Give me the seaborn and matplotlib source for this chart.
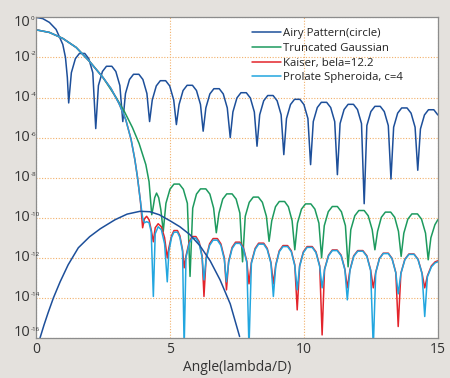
import numpy as np
import pandas as pd
import matplotlib
matplotlib.use('Agg')
import matplotlib.pyplot as plt
import seaborn as sns

# ---------------------------------------------------------------
# Valores (eixo y guardado como log10 da intensidade)
# ---------------------------------------------------------------
airy_x = [0, 0.25, 0.5, 0.75, 1.0, 1.1, 1.17,
          1.22, 1.32, 1.47, 1.62, 1.82, 1.97, 2.12,
          2.23, 2.33, 2.48, 2.63, 2.83, 2.98, 3.13,
          3.24, 3.34, 3.49, 3.64, 3.84, 3.99, 4.14,
          4.24, 4.34, 4.49, 4.64, 4.84, 4.99, 5.14,
          5.24, 5.34, 5.49, 5.64, 5.84, 5.99, 6.14,
          6.24, 6.34, 6.49, 6.64, 6.84, 6.99, 7.14,
          7.25, 7.35, 7.5, 7.65, 7.85, 8.0, 8.15,
          8.25, 8.35, 8.5, 8.65, 8.85, 9.0, 9.15,
          9.25, 9.35, 9.5, 9.65, 9.85, 10.0, 10.15,
          10.25, 10.35, 10.5, 10.65, 10.85, 11.0, 11.15,
          11.25, 11.35, 11.5, 11.65, 11.85, 12.0, 12.15,
          12.25, 12.35, 12.5, 12.65, 12.85, 13.0, 13.15,
          13.25, 13.35, 13.5, 13.65, 13.85, 14.0, 14.15,
          14.25, 14.35, 14.5, 14.65, 14.85, 15.0]
airy_log = [0, -0.06, -0.25, -0.6, -1.35, -2.0, -3.0,
            -4.27, -2.76, -2.06, -1.80, -1.80, -2.06, -2.76,
            -5.55, -3.40, -2.70, -2.44, -2.44, -2.70, -3.40,
            -5.2, -3.80, -3.10, -2.84, -2.84, -3.10, -3.80,
            -5.2, -4.12, -3.42, -3.16, -3.16, -3.42, -4.12,
            -5.35, -4.35, -3.65, -3.39, -3.39, -3.65, -4.35,
            -5.68, -4.52, -3.82, -3.56, -3.56, -3.82, -4.52,
            -6.0, -4.72, -4.02, -3.76, -3.76, -4.02, -4.72,
            -6.43, -4.86, -4.16, -3.90, -3.90, -4.16, -4.86,
            -6.85, -5.05, -4.35, -4.09, -4.09, -4.35, -5.05,
            -7.35, -5.2, -4.5, -4.24, -4.24, -4.5, -5.2,
            -7.85, -5.3, -4.6, -4.34, -4.34, -4.6, -5.3,
            -9.3, -5.4, -4.7, -4.44, -4.44, -4.7, -5.4,
            -8.07, -5.48, -4.78, -4.52, -4.52, -4.78, -5.48,
            -7.63, -5.57, -4.87, -4.61, -4.61, -4.87]

# curva em arco (mesma cor do Airy, sem legenda)
arco_x = [0.15, 0.3, 0.45, 0.65, 0.9, 1.2, 1.58, 2.0, 2.4, 2.95, 3.4,
          3.88, 4.25, 4.6, 5.0, 5.37, 5.75, 6.12, 6.5, 6.87, 7.25, 7.6]
arco_log = [-16, -15.35, -14.75, -14.0, -13.2, -12.35, -11.5, -10.95,
            -10.55, -10.1, -9.82, -9.68, -9.7, -9.85, -10.15, -10.45,
            -10.85, -11.4, -12.15, -13.1, -14.3, -15.93]

gauss_x = [0, 0.5, 1.0, 1.5, 2.0, 2.5, 3.0, 3.3, 3.6, 3.85, 4.1, 4.22,
           4.32, 4.37, 4.43, 4.5, 4.58, 4.66,
           4.75, 4.85, 5.0, 5.15, 5.35, 5.5, 5.65,
           5.75, 5.85, 5.99, 6.14, 6.34, 6.49, 6.63,
           6.73, 6.83, 6.97, 7.12, 7.32, 7.47, 7.61,
           7.71, 7.81, 7.96, 8.11, 8.30, 8.45, 8.60,
           8.70, 8.80, 8.94, 9.08, 9.28, 9.42, 9.56,
           9.66, 9.76, 9.91, 10.06, 10.26, 10.41, 10.56,
           10.66, 10.76, 10.91, 11.06, 11.25, 11.40, 11.55,
           11.65, 11.75, 11.9, 12.05, 12.25, 12.4, 12.55,
           12.65, 12.75, 12.89, 13.04, 13.24, 13.39, 13.53,
           13.63, 13.73, 13.88, 14.03, 14.24, 14.39, 14.54,
           14.64, 14.74, 14.89, 15.0]
gauss_log = [-0.62, -0.75, -1.05, -1.5, -2.2, -3.0, -4.02, -4.7, -5.5, -6.3, -7.35, -8.2,
             -9.85, -9.5, -9.0, -8.77, -9.0, -9.6,
             -10.68, -9.28, -8.58, -8.32, -8.32, -8.58, -9.28,
             -12.93, -9.52, -8.82, -8.56, -8.56, -8.82, -9.52,
             -10.75, -9.77, -9.07, -8.81, -8.81, -9.07, -9.77,
             -12.2, -9.93, -9.23, -8.97, -8.97, -9.23, -9.93,
             -11.18, -10.15, -9.45, -9.19, -9.19, -9.45, -10.15,
             -11.6, -10.27, -9.57, -9.31, -9.31, -9.57, -10.27,
             -12.0, -10.4, -9.7, -9.44, -9.44, -9.7, -10.4,
             -12.45, -10.6, -9.9, -9.64, -9.64, -9.9, -10.6,
             -11.6, -10.68, -9.98, -9.72, -9.72, -9.98, -10.68,
             -11.93, -10.77, -10.07, -9.81, -9.81, -10.07, -10.77,
             -12.1, -11.0, -10.35, -10.1]

# Kaiser e Prolate compartilham as posicoes x
lobo_x = [0, 0.5, 1.0, 1.5, 2.0, 2.5, 2.8, 3.1, 3.35, 3.55, 3.69, 3.79, 3.9,
          3.98, 4.05, 4.13, 4.22, 4.3, 4.38, 4.45, 4.56, 4.68, 4.8,
          4.9, 4.96, 5.06, 5.15, 5.28, 5.37, 5.47,
          5.53, 5.60, 5.72, 5.83, 5.97, 6.09, 6.20,
          6.27, 6.35, 6.48, 6.61, 6.77, 6.9, 7.03,
          7.11, 7.19, 7.32, 7.45, 7.61, 7.74, 7.87,
          7.95, 8.04, 8.18, 8.31, 8.50, 8.63, 8.77,
          8.86, 8.95, 9.08, 9.22, 9.39, 9.53, 9.66,
          9.75, 9.84, 9.98, 10.12, 10.31, 10.45, 10.59,
          10.68, 10.77, 10.92, 11.06, 11.24, 11.39, 11.53,
          11.62, 11.72, 11.86, 12.01, 12.2, 12.35, 12.49,
          12.59, 12.68, 12.82, 12.96, 13.15, 13.29, 13.43,
          13.52, 13.62, 13.77, 13.92, 14.11, 14.26, 14.41,
          14.51, 14.61, 14.76, 14.9, 15.0]
kaiser_log = [-0.62, -0.75, -1.05, -1.5, -2.2, -3.0, -3.55, -4.3, -5.1, -6.1, -7.1, -8.0, -9.2,
              -10.5, -10.05, -9.93, -10.1, -10.6, -11.2, -10.5, -10.3, -10.45, -11.0,
              -12.0, -11.5, -10.9, -10.64, -10.64, -10.9, -11.6,
              -12.5, -11.9, -11.2, -10.94, -10.94, -11.2, -11.9,
              -13.93, -12.0, -11.3, -11.04, -11.04, -11.3, -12.0,
              -13.6, -12.18, -11.48, -11.22, -11.22, -11.48, -12.18,
              -13.3, -12.23, -11.53, -11.27, -11.27, -11.53, -12.23,
              -13.3, -12.35, -11.65, -11.39, -11.39, -11.65, -12.35,
              -14.6, -12.4, -11.7, -11.44, -11.44, -11.7, -12.4,
              -15.85, -12.57, -11.87, -11.61, -11.61, -11.87, -12.57,
              -13.5, -12.6, -11.9, -11.64, -11.64, -11.9, -12.6,
              -13.5, -12.73, -12.03, -11.77, -11.77, -12.03, -12.73,
              -15.43, -12.77, -12.07, -11.81, -11.81, -12.07, -12.77,
              -13.5, -12.9, -12.4, -12.2, -12.15]
prolate_log = [-0.62, -0.75, -1.05, -1.5, -2.2, -3.0, -3.55, -4.3, -5.1, -6.1, -7.1, -8.0, -9.2,
               -10.0, -10.25, -10.2, -10.25, -10.7, -13.93, -10.8, -10.45, -10.6, -11.3,
               -13.2, -11.68, -10.98, -10.72, -10.72, -10.98, -11.68,
               -16.5, -11.98, -11.28, -11.02, -11.02, -11.28, -11.98,
               -13.1, -12.08, -11.38, -11.12, -11.12, -11.38, -12.08,
               -13.2, -12.24, -11.54, -11.28, -11.28, -11.54, -12.24,
               -16.5, -12.28, -11.58, -11.32, -11.32, -11.58, -12.28,
               -13.93, -12.4, -11.7, -11.44, -11.44, -11.7, -12.4,
               -13.6, -12.44, -11.74, -11.48, -11.48, -11.74, -12.44,
               -13.5, -12.6, -11.9, -11.64, -11.64, -11.9, -12.6,
               -14.1, -12.63, -11.93, -11.67, -11.67, -11.93, -12.63,
               -16.5, -12.75, -12.05, -11.79, -11.79, -12.05, -12.75,
               -13.8, -12.79, -12.09, -11.83, -11.83, -12.09, -12.79,
               -14.93, -12.95, -12.45, -12.25, -12.2]

expoentes = [0, -2, -4, -6, -8, -10, -12, -14, -16]
rotulos = ['Airy Pattern(circle)', 'Truncated Gaussian',
           'Kaiser, bela=12.2', 'Prolate Spheroida, c=4']
cores = ['#1d4f9a', '#1d9a5e', '#e3242b', '#22a6df']

# ---------------------------------------------------------------
sns.set_style('white')
plt.rcParams['font.family'] = ['Open Sans', 'DejaVu Sans']

fig = plt.figure(figsize=(4.5, 3.78), dpi=100, facecolor='#e4e1dd')
ax = fig.add_axes([0.08, 0.106, 0.893, 0.848])
ax.set_facecolor('white')

series = [(airy_x, airy_log, cores[0], rotulos[0]),
          (gauss_x, gauss_log, cores[1], rotulos[1]),
          (lobo_x, kaiser_log, cores[2], rotulos[2]),
          (lobo_x, prolate_log, cores[3], rotulos[3])]
for xs, ls, c, lab in series:
    sns.lineplot(x=xs, y=10 ** np.array(ls), ax=ax, color=c, lw=1.1,
                 sort=False, estimator=None, label=lab)
sns.lineplot(x=arco_x, y=10 ** np.array(arco_log), ax=ax, color=cores[0],
             lw=1.1, sort=False, estimator=None)

ax.set_yscale('log')
ax.set_xlim(0, 15)
ax.set_ylim(1e-16, 1)
ax.set_xticks([0, 5, 10, 15])
ax.set_yticks([10.0 ** e for e in expoentes])
ax.set_yticklabels([])
ax.minorticks_off()
ax.tick_params(length=0, labelsize=10, colors='#333333', pad=3)
ax.grid(True, color='#f2b06a', ls=(0, (1, 1.5)), lw=0.8)
for s in ax.spines.values():
    s.set_color('#8c8c8c')
    s.set_linewidth(0.9)

# rotulos do eixo y: "10" com expoente pequeno (estilo da figura original)
for e in expoentes:
    dy = -5 if e == 0 else (5 if e == -16 else 0)
    ax.annotate('10', xy=(0, 10.0 ** e), xycoords=('axes fraction', 'data'),
                xytext=(-6, dy), textcoords='offset pixels', ha='right',
                va='center', fontsize=10.5, color='#333333')
    ax.annotate(str(e), xy=(0, 10.0 ** e), xycoords=('axes fraction', 'data'),
                xytext=(-5, dy + 1), textcoords='offset pixels', ha='left',
                va='bottom', fontsize=4.5, color='#333333')

ax.set_xlabel('Angle(lambda/D)', fontsize=10, color='#333333', labelpad=2)
ax.set_ylabel('')

leg = ax.legend(loc='upper left', bbox_to_anchor=(0.537, 0.966), frameon=False,
                fontsize=8.2, handlelength=2.6, handletextpad=0.1,
                labelspacing=0.32, borderpad=0, borderaxespad=0)
for t in leg.get_texts():
    t.set_color('#222222')

fig.savefig('out.png', dpi=100, facecolor=fig.get_facecolor())
